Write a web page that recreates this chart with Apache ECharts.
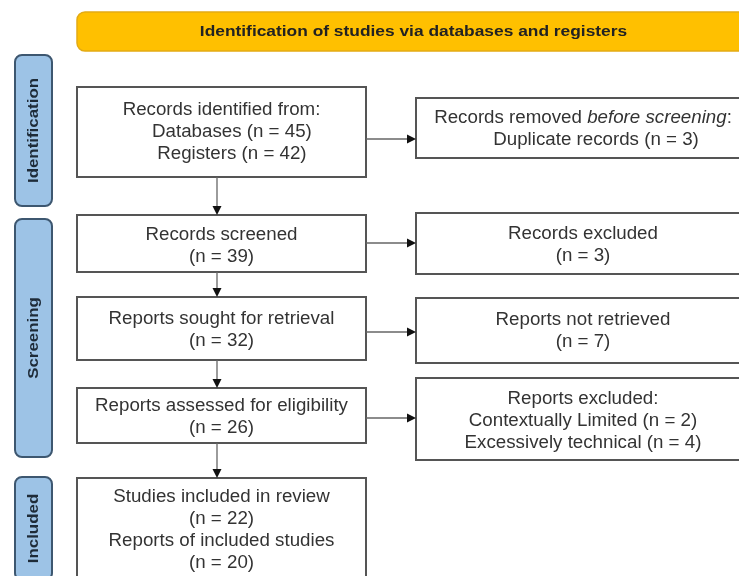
<!DOCTYPE html>
<html>
<head>
<meta charset="utf-8">
<title>PRISMA flow diagram</title>
<script src="https://cdn.jsdelivr.net/npm/echarts@6/dist/echarts.min.js"></script>
<style>
  html, body { margin: 0; padding: 0; background: #fff; }
  #main { width: 739px; height: 576px; }
</style>
</head>
<body>
<div id="main"></div>
<script>
// ---- data ----
var headerTitle = 'Identification of studies via databases and registers';
var stages = ['Identification', 'Screening', 'Included'];

var sources = ['Databases', 'Registers'];
var sourceCounts = [45, 42];
var duplicateCount = 3;

var mainSteps = ['Records screened', 'Reports sought for retrieval', 'Reports assessed for eligibility'];
var mainCounts = [39, 32, 26];

var sideSteps = ['Records excluded', 'Reports not retrieved'];
var sideCounts = [3, 7];

var excludedReasons = ['Contextually Limited', 'Excessively technical'];
var excludedCounts = [2, 4];

var includedLabels = ['Studies included in review', 'Reports of included studies'];
var includedCounts = [22, 20];

// ---- layout (axis units = pixels of the 739x576 sheet) ----
var leftCol = [77, 366];
var rightCol = [416, 750];
var leftRows = [[87, 177], [215, 272], [297, 360], [388, 443], [478, 600]];
var leftTextY = [132, 246, 330.5, 417, 530];
var rightRows = [[98, 158], [213, 274], [298, 363], [378, 460]];
var rightTextY = [129, 245, 331.5, 421];
var stageCol = [15, 52];
var stageRows = [[55, 206], [219, 457], [477, 580]];
var headerBox = [77, 12, 750, 51];
var flowX = 217;
var sideArrowY = [139, 243, 332, 418];

var FONT = '"Liberation Sans", Arial, sans-serif';

function n(v) { return '(n = ' + v + ')'; }

// box texts built from the data
var leftTexts = [
  ['Records identified from:']
    .concat(sources.map(function (s, i) { return '    ' + s + ' ' + n(sourceCounts[i]); })),
  [mainSteps[0], n(mainCounts[0])],
  [mainSteps[1], n(mainCounts[1])],
  [mainSteps[2], n(mainCounts[2])],
  [includedLabels[0], n(includedCounts[0]), includedLabels[1], n(includedCounts[1])]
];
var rightTexts = [
  ['Records removed {i|before screening}:', '     Duplicate records ' + n(duplicateCount)],
  [sideSteps[0], n(sideCounts[0])],
  [sideSteps[1], n(sideCounts[1])],
  ['Reports excluded:'].concat(excludedReasons.map(function (r, i) { return r + ' ' + n(excludedCounts[i]); }))
];

// arrows: vertical ones down the main column, horizontal ones to the side boxes
var arrows = [];
for (var i = 0; i < leftRows.length - 1; i++) {
  arrows.push([flowX, leftRows[i][1], flowX, leftRows[i + 1][0]]);
}
sideArrowY.forEach(function (y) { arrows.push([leftCol[1], y, rightCol[0], y]); });

var chart = echarts.init(document.getElementById('main'), null, { renderer: 'canvas' });

function textEl(cx, cy, text, size, weight, color, sx, rot) {
  return {
    type: 'text', x: cx, y: cy, scaleX: sx, rotation: rot || 0,
    style: {
      text: text, fill: color, fontSize: size, fontFamily: FONT, fontWeight: weight,
      align: 'center', verticalAlign: 'middle', lineHeight: 22,
      rich: {
        i: { fontStyle: 'italic', fontSize: size, fontFamily: FONT, fill: color, lineHeight: 22 }
      }
    }
  };
}

function boxRender(cols, rows, texts, textY) {
  return function (params, api) {
    var k = params.dataIndex;
    var a = api.coord([cols[0], rows[k][0]]);
    var b = api.coord([cols[1], rows[k][1]]);
    var c = api.coord([(cols[0] + cols[1]) / 2, textY[k]]);
    return {
      type: 'group',
      children: [
        { type: 'rect', shape: { x: a[0], y: a[1], width: b[0] - a[0], height: b[1] - a[1] },
          style: { fill: '#fff', stroke: '#555', lineWidth: 2 } },
        textEl(c[0], c[1], texts[k].join('\n'), 17.5, 'normal', '#333', 1.07)
      ]
    };
  };
}

chart.setOption({
  animation: false,
  backgroundColor: '#fff',
  grid: { left: 0, right: 0, top: 0, bottom: 0 },
  xAxis: { type: 'value', min: 0, max: 739, show: false },
  yAxis: { type: 'value', min: 0, max: 576, inverse: true, show: false },
  series: [
    {
      // header band
      type: 'custom', name: 'header', data: [[0]], silent: true,
      renderItem: function (params, api) {
        var a = api.coord([headerBox[0], headerBox[1]]);
        var b = api.coord([headerBox[2], headerBox[3]]);
        return {
          type: 'group',
          children: [
            { type: 'rect', shape: { x: a[0], y: a[1], width: b[0] - a[0], height: b[1] - a[1], r: 8 },
              style: { fill: '#ffc000', stroke: '#e3aa14', lineWidth: 1.5 } },
            textEl((a[0] + b[0]) / 2, (a[1] + b[1]) / 2, headerTitle, 15.5, 'bold', '#222', 1.12)
          ]
        };
      }
    },
    {
      // phase labels on the left
      type: 'custom', name: 'stages', data: stages.map(function (s, i) { return [i]; }), silent: true,
      renderItem: function (params, api) {
        var k = params.dataIndex;
        var a = api.coord([stageCol[0], stageRows[k][0]]);
        var b = api.coord([stageCol[1], stageRows[k][1]]);
        return {
          type: 'group',
          children: [
            { type: 'rect', shape: { x: a[0], y: a[1], width: b[0] - a[0], height: b[1] - a[1], r: 7 },
              style: { fill: '#9dc3e6', stroke: '#3d5770', lineWidth: 2 } },
            textEl((a[0] + b[0]) / 2, (a[1] + b[1]) / 2, stages[k], 15.5, 'bold', '#1e2b38', 1.09, Math.PI / 2)
          ]
        };
      }
    },
    {
      type: 'custom', name: 'main', data: leftTexts.map(function (t, i) { return [i]; }), silent: true,
      renderItem: boxRender(leftCol, leftRows, leftTexts, leftTextY)
    },
    {
      type: 'custom', name: 'side', data: rightTexts.map(function (t, i) { return [i]; }), silent: true,
      renderItem: boxRender(rightCol, rightRows, rightTexts, rightTextY)
    },
    {
      type: 'custom', name: 'arrows', data: arrows.map(function (a, i) { return [i]; }), silent: true,
      renderItem: function (params, api) {
        var ar = arrows[params.dataIndex];
        var p = api.coord([ar[0], ar[1]]);
        var q = api.coord([ar[2], ar[3]]);
        var dx = q[0] - p[0], dy = q[1] - p[1];
        var len = Math.sqrt(dx * dx + dy * dy);
        var ux = dx / len, uy = dy / len;
        var hl = 9, hw = 4.5;
        var bx = q[0] - ux * hl, by = q[1] - uy * hl;
        return {
          type: 'group',
          children: [
            { type: 'line', shape: { x1: p[0], y1: p[1], x2: bx, y2: by },
              style: { stroke: '#666', lineWidth: 1.3 } },
            { type: 'polygon',
              shape: { points: [[q[0], q[1]], [bx - uy * hw, by + ux * hw], [bx + uy * hw, by - ux * hw]] },
              style: { fill: '#111' } }
          ]
        };
      }
    }
  ]
});
</script>
</body>
</html>
